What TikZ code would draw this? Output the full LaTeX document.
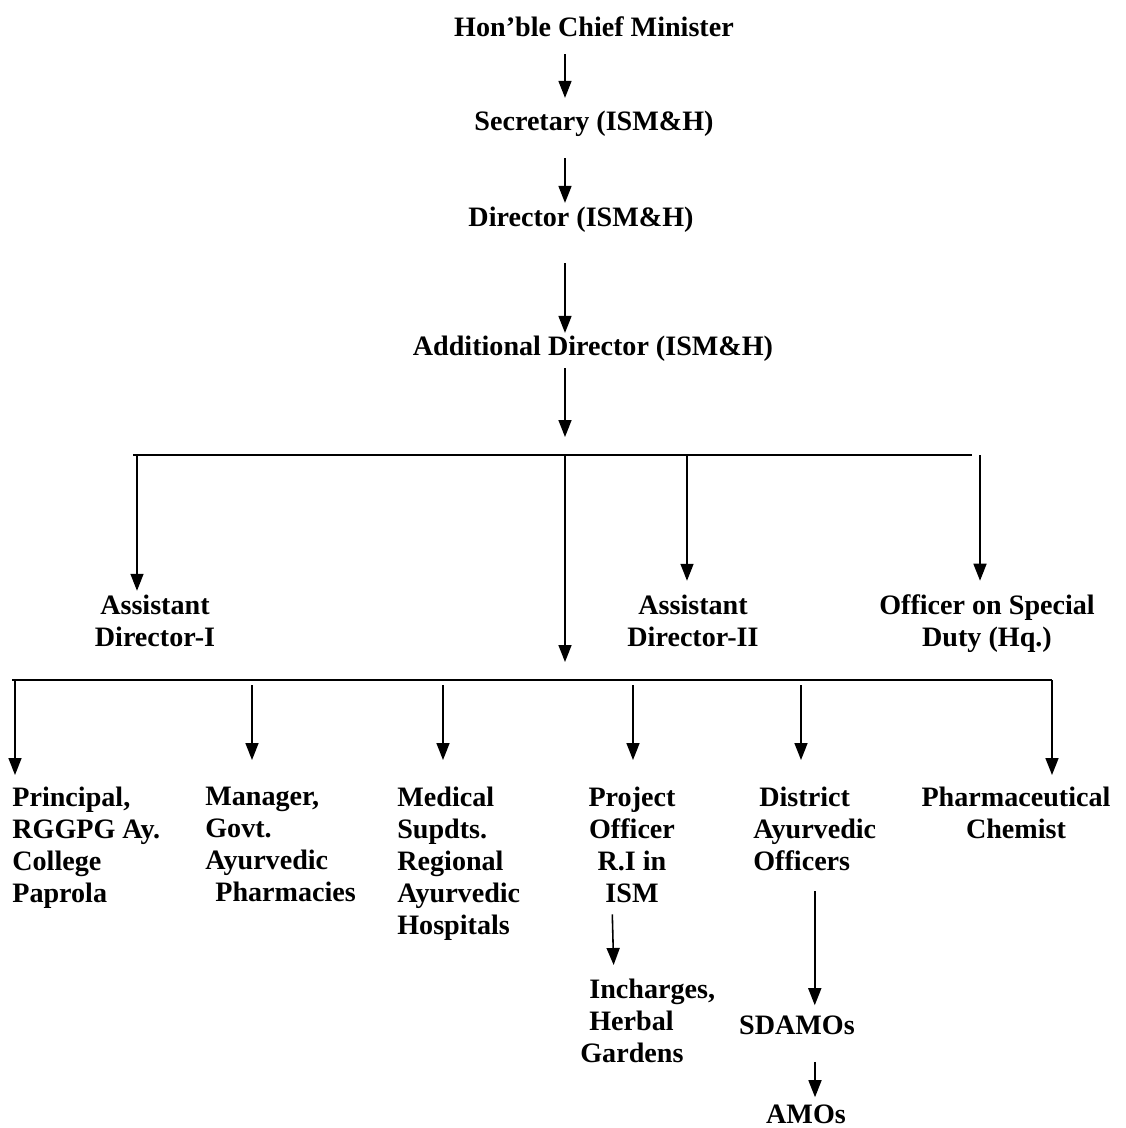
\documentclass[tikz,border=0pt]{standalone}
\usepackage{fontspec}
\setmainfont{Liberation Serif}
\usetikzlibrary{arrows.meta}

\begin{document}
\begin{tikzpicture}[x=0.02cm, y=-0.02cm,
    lbl/.style={font=\bfseries\fontsize{16}{18.2}\selectfont, inner sep=0pt},
    arr/.style={line width=0.9pt, -{Triangle[length=0.34cm, width=0.26cm]}}]
    \useasboundingbox (0,0) rectangle (1125,1128);

    % top chain
    \node[lbl] (hcm) at (594,27) {Hon’ble Chief Minister};
    \node[lbl] (sec) at (594,124) {Secretary (ISM\&H)};
    \node[lbl] (dir) at (581,220) {Director (ISM\&H)};
    \node[lbl] (add) at (593,349) {Additional Director (ISM\&H)};
    \coordinate (spine) at (565,0);

    \draw[arr, shorten <=0.34cm, shorten >=0.26cm] (hcm.south -| spine) -- (sec.north -| spine);
    \draw[arr, shorten <=0.42cm, shorten >=0.08cm] (sec.south -| spine) -- (dir.north -| spine);
    \draw[arr, shorten <=0.6cm, shorten >=0.06cm] (dir.south -| spine) -- (add.north -| spine);

    % first bus
    \coordinate (b1l) at (133,455);
    \coordinate (b1r) at (972,455);
    \coordinate (b1c) at (565,455);
    \coordinate (t1) at (137,455);
    \coordinate (t3) at (687,455);
    \coordinate (t4) at (980,455);
    \draw[line width=0.9pt] (b1l) -- (b1r);
    \draw[arr, shorten <=0.12cm, shorten >=0.36cm] (add.south -| spine) -- (b1c);

    \node[lbl, align=center] (adi) at (155,621) {Assistant\\Director-I};
    \node[lbl, align=center] (adii) at (693,621) {Assistant\\Director-II};
    \node[lbl, align=center] (osd) at (987,624) {Officer on Special\\Duty (Hq.)};

    \draw[arr, shorten >=0.08cm] (t1) -- (t1 |- adi.north);
    \draw[arr, shorten >=0.28cm] (t3) -- (t3 |- adii.north);
    \draw[arr, shorten >=0.28cm] (t4) -- (t4 |- osd.north);

    % second bus
    \coordinate (b2l) at (12,680);
    \coordinate (b2r) at (1052,680);
    \coordinate (b2c) at (565,680);
    \draw[line width=0.9pt] (b2l) -- (b2r);
    \draw[arr, shorten >=0.36cm] (b1c) -- (b2c);

    \node[lbl, align=left, anchor=north west] (prin) at (12,787) {Principal,\\RGGPG Ay.\\College\\Paprola};
    \node[lbl, align=left, anchor=north west] (mgr) at (205,787) {Manager,\\Govt.\\Ayurvedic\\\hspace*{0.2cm}Pharmacies};
    \node[lbl, align=left, anchor=north west] (med) at (397,787) {Medical\\Supdts.\\Regional\\Ayurvedic\\Hospitals};
    \node[lbl, align=center, anchor=north] (proj) at (632,787) {Project\\Officer\\R.I in\\ISM};
    \node[lbl, align=left, anchor=north west] (dist) at (753,787) {\hspace*{0.12cm}District\\Ayurvedic\\Officers};
    \node[lbl, align=center, anchor=north] (pharm) at (1016,787) {Pharmaceutical\\Chemist};

    \coordinate (u1) at (15,680);
    \coordinate (u2) at (252,685);
    \coordinate (u3) at (443,685);
    \coordinate (u4) at (633,685);
    \coordinate (u5) at (801,685);
    \coordinate (u6) at (1052,680);
    \draw[arr, shorten >=0.24cm] (u1) -- (u1 |- prin.north);
    \draw[arr, shorten >=0.54cm] (u2) -- (u2 |- mgr.north);
    \draw[arr, shorten >=0.54cm] (u3) -- (u3 |- med.north);
    \draw[arr, shorten >=0.54cm] (u4) -- (u4 |- proj.north);
    \draw[arr, shorten >=0.54cm] (u5) -- (u5 |- dist.north);
    \draw[arr, shorten >=0.24cm] (u6) -- (u6 |- pharm.north);

    % lower levels
    \node[lbl, align=left, anchor=north west] (inch) at (589,979) {Incharges,\\Herbal\\\hspace*{-0.18cm}Gardens};
    \node[lbl] (sdamo) at (797,1025) {SDAMOs};
    \node[lbl] (amo) at (806,1114) {AMOs};
    \coordinate (dsp) at (815,0);

    \draw[arr, shorten <=0.22cm, shorten >=0.28cm] ([xshift=-0.4cm]proj.south) -- ([xshift=0.5cm]inch.north west);
    \draw[arr, shorten <=0.4cm, shorten >=0.2cm] (dist.south) -- (dist.south |- sdamo.north);
    \draw[arr, shorten <=0.54cm, shorten >=0.14cm] (sdamo.south -| dsp) -- (amo.north -| dsp);
\end{tikzpicture}
\end{document}
